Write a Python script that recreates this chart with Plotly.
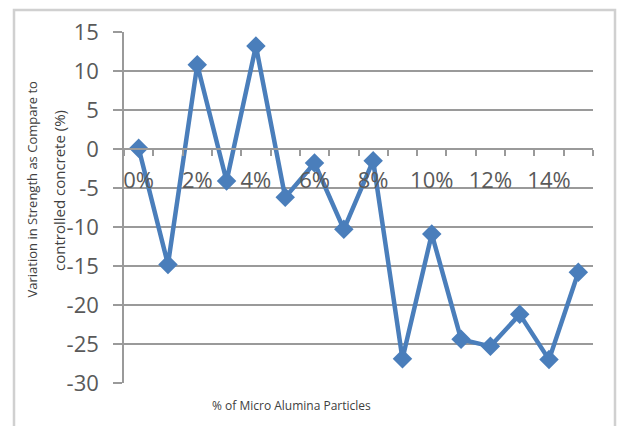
import plotly.graph_objects as go

categories = ["0%", "1%", "2%", "3%", "4%", "5%", "6%", "7%", "8%", "9%",
              "10%", "11%", "12%", "13%", "14%", "15%"]
variation = [0.1, -14.8, 10.8, -4.1, 13.2, -6.2, -1.8, -10.3, -1.5, -26.9,
             -10.9, -24.4, -25.3, -21.2, -27.0, -15.8]
x_tick_text = [c if i % 2 == 0 else "" for i, c in enumerate(categories)]
y_ticks = [15, 10, 5, 0, -5, -10, -15, -20, -25, -30]
y_tick_text = ["15", "10", "5", "0", "-5", "-10", "-15", "-20", "-25", "-30"]

W, H = 617, 426
L, R, T, B = 124, 24, 32, 43
PW, PH = W - L - R, H - T - B

def px(x):
    return (x - L) / PW

def py(y):
    return (H - B - y) / PH

GRID = "#9a9a9a"
FONT = "Open Sans"

fig = go.Figure()
fig.add_trace(go.Scatter(
    x=categories, y=variation, mode="lines+markers",
    line=dict(color="#4A7EBB", width=4.5),
    marker=dict(symbol="diamond", size=15, color="#4A7EBB"),
    showlegend=False, cliponaxis=False,
))

fig.update_layout(
    width=W, height=H,
    margin=dict(l=L, r=R, t=T, b=B),
    paper_bgcolor="white", plot_bgcolor="white",
    font=dict(family=FONT, color="#595959"),
    xaxis=dict(
        type="category", categoryorder="array", categoryarray=categories,
        range=[-0.5, 15.5],
        tickmode="array", tickvals=categories, ticktext=x_tick_text,
        tickangle=0,
        tickson="boundaries", ticks="outside", ticklen=6, tickcolor=GRID,
        tickwidth=1.5,
        showline=True, linecolor=GRID, linewidth=1.5,
        showgrid=False, zeroline=False,
        anchor="free", position=30 / 45,
        tickfont=dict(size=22, color="#595959", family=FONT),
        ticklabelstandoff=12,
    ),
    yaxis=dict(
        range=[-30, 15], tickmode="array", tickvals=y_ticks, ticktext=y_tick_text,
        ticks="outside", ticklen=9, tickcolor=GRID, tickwidth=1.5,
        showline=True, linecolor=GRID, linewidth=1.5,
        showgrid=True, gridcolor=GRID, gridwidth=1.5,
        zeroline=False,
        tickfont=dict(size=22, color="#595959", family=FONT),
        ticklabelstandoff=10,
    ),
    shapes=[dict(type="rect", xref="paper", yref="paper",
                 x0=px(14), x1=px(615), y0=py(440), y1=py(10),
                 line=dict(color="#d0d0d0", width=2.5), layer="below")],
    annotations=[
        dict(text="Variation in Strength as Compare to", xref="paper", yref="paper",
             x=px(31.5), y=py(189), textangle=-90, showarrow=False,
             xanchor="center", yanchor="middle",
             font=dict(size=13, color="#404040", family=FONT)),
        dict(text="controlled concrete (%)", xref="paper", yref="paper",
             x=px(59), y=py(191), textangle=-90, showarrow=False,
             xanchor="center", yanchor="middle",
             font=dict(size=15, color="#404040", family=FONT)),
        dict(text="% of Micro Alumina Particles", xref="paper", yref="paper",
             x=px(291), y=py(405), showarrow=False,
             xanchor="center", yanchor="middle",
             font=dict(size=12, color="#404040", family=FONT)),
    ],
)

fig.write_html("out.html")
